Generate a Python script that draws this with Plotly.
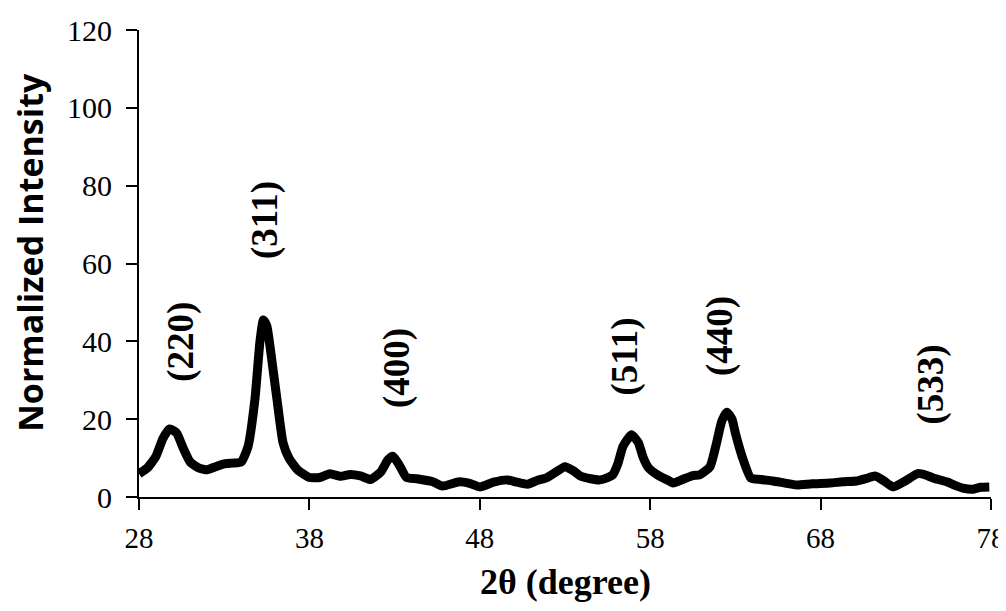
import plotly.graph_objects as go

two_theta = [28.0, 28.5, 29.0, 29.4, 29.8, 30.2, 30.6, 31.0, 31.5, 32.0, 32.5, 33.0, 33.5, 34.0,
             34.4, 34.8, 35.1, 35.3, 35.5, 35.8, 36.1, 36.45, 36.8, 37.3, 38.0, 38.6, 39.2, 39.8,
             40.4, 41.0, 41.6, 42.2, 42.6, 42.9, 43.3, 43.7, 44.3, 45.25, 45.8, 46.8, 47.4, 48.0,
             48.8, 49.6, 50.2, 50.8, 51.4, 51.9, 52.5, 53.0, 53.5, 53.9, 54.5, 55.05, 55.5, 55.8,
             56.1, 56.4, 56.9, 57.3, 57.6, 57.9, 58.5, 59.0, 59.35, 59.9, 60.5, 60.9, 61.5, 61.9,
             62.2, 62.5, 62.8, 63.0, 63.4, 63.9, 64.5, 65.2, 66.0, 66.6, 67.5, 68.55, 69.3, 70.1,
             70.7, 71.2, 71.7, 72.25, 73.0, 73.7, 74.2, 74.6, 75.4, 76.0, 76.35, 76.9, 77.4, 77.9]
intensity = [6.0, 7.5, 10.5, 15.0, 17.5, 16.5, 12.5, 9.0, 7.5, 7.0, 7.8, 8.5, 8.7, 9.0,
             13.0, 25.0, 40.0, 45.5, 44.0, 35.0, 25.0, 14.0, 10.0, 7.0, 5.0, 5.0, 6.0, 5.3,
             5.8, 5.4, 4.5, 6.5, 9.5, 10.5, 8.0, 5.0, 4.7, 3.9, 2.8, 3.9, 3.5, 2.6,
             3.8, 4.4, 3.8, 3.3, 4.3, 4.9, 6.5, 7.8, 6.7, 5.4, 4.7, 4.4, 5.0, 5.7,
             8.5, 13.0, 16.0, 14.0, 10.0, 7.5, 5.5, 4.4, 3.6, 4.5, 5.5, 5.7, 7.7, 14.0,
             19.5, 21.8, 20.0, 16.4, 10.3, 4.9, 4.5, 4.1, 3.5, 3.1, 3.4, 3.6, 3.9, 4.1,
             4.8, 5.4, 4.2, 2.6, 4.2, 6.0, 5.6, 4.9, 3.9, 2.8, 2.3, 2.0, 2.5, 2.6]

peak_labels = ["(220)", "(311)", "(400)", "(511)", "(440)", "(533)"]
label_x = [30.5, 35.4, 43.1, 56.5, 62.1, 74.5]
label_y = [39.8, 71.2, 33.2, 36.0, 41.4, 29.0]

x_ticks = [28, 38, 48, 58, 68, 78]
y_ticks = [0, 20, 40, 60, 80, 100, 120]

x_title = "2θ (degree)"
y_title = "Normalized Intensity"

fig = go.Figure()
fig.add_trace(go.Scatter(x=two_theta, y=intensity, mode="lines",
                         line=dict(color="black", width=9, shape="spline", smoothing=0.5),
                         showlegend=False, hoverinfo="skip"))

for t, xv, yv in zip(peak_labels, label_x, label_y):
    fig.add_annotation(x=xv, y=yv, text="<b>" + t + "</b>", textangle=-90, showarrow=False,
                       xanchor="center", yanchor="middle",
                       font=dict(family="Liberation Serif", size=37, color="black"))

fig.add_annotation(x=0.5, y=-0.183, xref="paper", yref="paper", text="<b>" + x_title + "</b>",
                   showarrow=False, xanchor="center", yanchor="middle",
                   font=dict(family="Liberation Serif", size=36, color="black"))
fig.add_annotation(x=-0.128, y=0.525, xref="paper", yref="paper", text="<b>" + y_title + "</b>",
                   textangle=-90, showarrow=False, xanchor="center", yanchor="middle",
                   font=dict(family="Open Sans", size=34, color="black"))

# page body adds an 8px offset, so the figure is sized and placed to compensate
fig.update_layout(
    width=998, height=595,
    margin=dict(l=131, r=15, t=22, b=106),
    paper_bgcolor="white", plot_bgcolor="white",
    showlegend=False,
    xaxis=dict(range=[28, 78], tickvals=x_ticks, ticks="outside", ticklen=11, tickwidth=2,
               tickcolor="black", showline=True, linecolor="black", linewidth=2,
               showgrid=False, zeroline=False, automargin=False, ticklabelstandoff=3,
               tickfont=dict(family="Liberation Serif", size=29, color="black")),
    yaxis=dict(range=[0, 120], tickvals=y_ticks, ticks="outside", ticklen=11, tickwidth=2,
               tickcolor="black", showline=True, linecolor="black", linewidth=2,
               showgrid=False, zeroline=False, automargin=False, ticklabelstandoff=8,
               tickfont=dict(family="Liberation Serif", size=30, color="black")),
)

fig.write_html("out.html")
